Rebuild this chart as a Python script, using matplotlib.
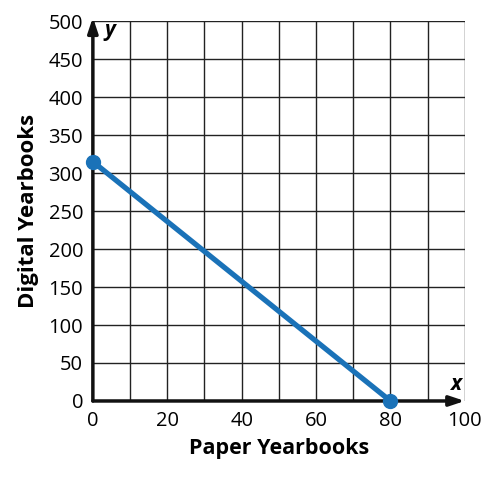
import numpy as np
import matplotlib.pyplot as plt

# endpoints of the line (paper, digital)
paper = [0, 80]
digital = [315, 0]

x_ticks = [0, 20, 40, 60, 80, 100]
y_ticks = [0, 50, 100, 150, 200, 250, 300, 350, 400, 450, 500]

plt.rcParams['font.family'] = ['Open Sans', 'DejaVu Sans']

fig = plt.figure(figsize=(5.02, 4.92), dpi=100)
ax = fig.add_axes([0.185, 0.185, 0.741, 0.772])

ax.set_xlim(0, 100)
ax.set_ylim(0, 500)

# grid
for gx in np.arange(10, 101, 10):
    ax.axvline(gx, color='#222222', lw=1.0, zorder=1)
for gy in np.arange(50, 501, 50):
    ax.axhline(gy, color='#222222', lw=1.0, zorder=1)

for s in ax.spines.values():
    s.set_visible(False)

# axes with arrows
ax.annotate('', xy=(0, 505), xytext=(0, 0),
            arrowprops=dict(arrowstyle='-|>,head_length=0.9,head_width=0.3', lw=2.5, color='#111111',
                            shrinkA=0, shrinkB=0), annotation_clip=False, zorder=3)
ax.annotate('', xy=(100, 0), xytext=(0, 0),
            arrowprops=dict(arrowstyle='-|>,head_length=0.9,head_width=0.3', lw=2.5, color='#111111',
                            shrinkA=0, shrinkB=0), annotation_clip=False, zorder=3)
ax.text(3, 488, 'y', fontsize=15, fontweight='bold', style='italic', ha='left', va='center')
ax.text(99, 22, 'x', fontsize=15, fontweight='bold', style='italic', ha='right', va='center')

ax.plot(paper, digital, color='#1a72b8', lw=3.8, zorder=4, solid_capstyle='round')
ax.plot(paper, digital, 'o', color='#1a72b8', ms=10, zorder=5, clip_on=False)

ax.set_xticks(x_ticks)
ax.set_yticks(y_ticks)
ax.tick_params(length=0, labelsize=14.5, pad=7)
ax.set_xlabel('Paper Yearbooks', fontsize=15.5, fontweight='bold', labelpad=5)
ax.set_ylabel('Digital Yearbooks', fontsize=16, fontweight='bold', labelpad=7)

fig.savefig('out.png', dpi=100)
